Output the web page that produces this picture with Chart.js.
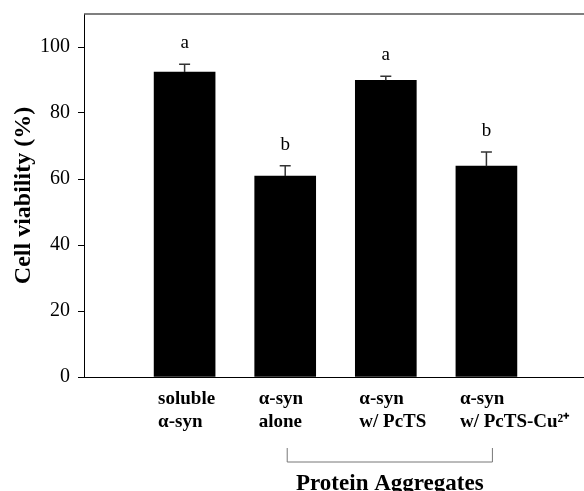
<!DOCTYPE html>
<html>
<head>
<meta charset="utf-8">
<script src="https://cdn.jsdelivr.net/npm/chart.js@4/dist/chart.umd.min.js"></script>
<style>
  html, body { margin: 0; padding: 0; background: #fff; }
</style>
</head>
<body>
<canvas id="barChart" width="584" height="491"></canvas>
<script>
// Datos
const categorias = [
  ['soluble', 'α-syn'],
  ['α-syn', 'alone'],
  ['α-syn', 'w/ PcTS'],
  ['α-syn', 'w/ PcTS-Cu²⁺']
];
const viabilidad = [92.4, 60.9, 89.9, 63.9];
const errores = [2.4, 3.1, 1.2, 4.3];
const letras = ['a', 'b', 'a', 'b'];
const ticksY = [0, 20, 40, 60, 80, 100];
const grupo = 'Protein Aggregates';
const grupoIndices = [1, 3];

const serif = '"Liberation Serif", "Times New Roman", serif';

// Barras de error, letras, borde superior y corchete del grupo
const extras = {
  id: 'extras',
  afterDraw(chart) {
    const { ctx, chartArea: a, scales: { x, y } } = chart;
    ctx.save();
    ctx.strokeStyle = '#555';
    ctx.lineWidth = 1.5;
    ctx.beginPath();
    ctx.moveTo(a.left, a.top);
    ctx.lineTo(a.right, a.top);
    ctx.stroke();

    ctx.strokeStyle = '#333';
    ctx.lineWidth = 1.5;
    ctx.fillStyle = '#000';
    ctx.font = '19px ' + serif;
    ctx.textAlign = 'center';
    ctx.textBaseline = 'alphabetic';
    viabilidad.forEach((v, i) => {
      const px = x.getPixelForValue(i + 1);
      const y0 = y.getPixelForValue(v);
      const y1 = y.getPixelForValue(v + errores[i]);
      ctx.beginPath();
      ctx.moveTo(px, y0);
      ctx.lineTo(px, y1);
      ctx.moveTo(px - 5.5, y1);
      ctx.lineTo(px + 5.5, y1);
      ctx.stroke();
      ctx.fillText(letras[i], px, y1 - 16);
    });

    // corchete "Protein Aggregates"
    const x1 = x.getPixelForValue(grupoIndices[0] + 1) + 2;
    const x2 = x.getPixelForValue(grupoIndices[1] + 1) + 6;
    const yTop = a.bottom + 71, yLine = a.bottom + 85;
    ctx.strokeStyle = '#777';
    ctx.lineWidth = 1;
    ctx.beginPath();
    ctx.moveTo(x1, yTop);
    ctx.lineTo(x1, yLine);
    ctx.lineTo(x2, yLine);
    ctx.lineTo(x2, yTop);
    ctx.stroke();
    ctx.font = 'bold 23px ' + serif;
    ctx.fillText(grupo, (x1 + x2) / 2, a.bottom + 113);
    ctx.restore();
  }
};

new Chart(document.getElementById('barChart'), {
  type: 'bar',
  data: {
    datasets: [{
      data: viabilidad.map((v, i) => ({ x: i + 1, y: v })),
      backgroundColor: '#000',
      borderWidth: 0,
      barThickness: 61
    }]
  },
  options: {
    responsive: false,
    animation: false,
    devicePixelRatio: 1,
    layout: { padding: { top: 14, left: 0, right: 0, bottom: 0 } },
    plugins: { legend: { display: false }, tooltip: { enabled: false } },
    scales: {
      x: {
        type: 'linear',
        offset: false,
        min: 0,
        max: 4.97,
        afterBuildTicks: s => { s.ticks = categorias.map((c, i) => ({ value: i + 1 })); },
        afterFit: s => { s.height = 114; s.paddingLeft = 0; s.paddingRight = 0; },
        grid: { display: false },
        border: { color: '#000', width: 1 },
        ticks: {
          align: 'start',
          labelOffset: -26.5,
          autoSkip: false,
          maxRotation: 0,
          padding: 3,
          color: '#000',
          font: { family: serif, size: 19, weight: 'bold' },
          callback: (v, i) => categorias[i]
        }
      },
      y: {
        min: 0,
        max: 110,
        afterBuildTicks: s => { s.ticks = ticksY.map(v => ({ value: v })); },
        afterFit: s => { s.width = 84; s.paddingTop = 0; s.paddingBottom = 0; },
        grid: { drawOnChartArea: false, drawTicks: true, tickLength: 6, color: '#000' },
        border: { color: '#000', width: 1 },
        ticks: {
          padding: 8,
          color: '#000',
          font: { family: serif, size: 20 }
        },
        title: {
          display: true,
          text: 'Cell viability (%)',
          color: '#000',
          font: { family: serif, size: 24, weight: 'bold' },
          padding: { top: 9, bottom: 0 }
        }
      }
    }
  },
  plugins: [extras]
});
</script>
</body>
</html>
